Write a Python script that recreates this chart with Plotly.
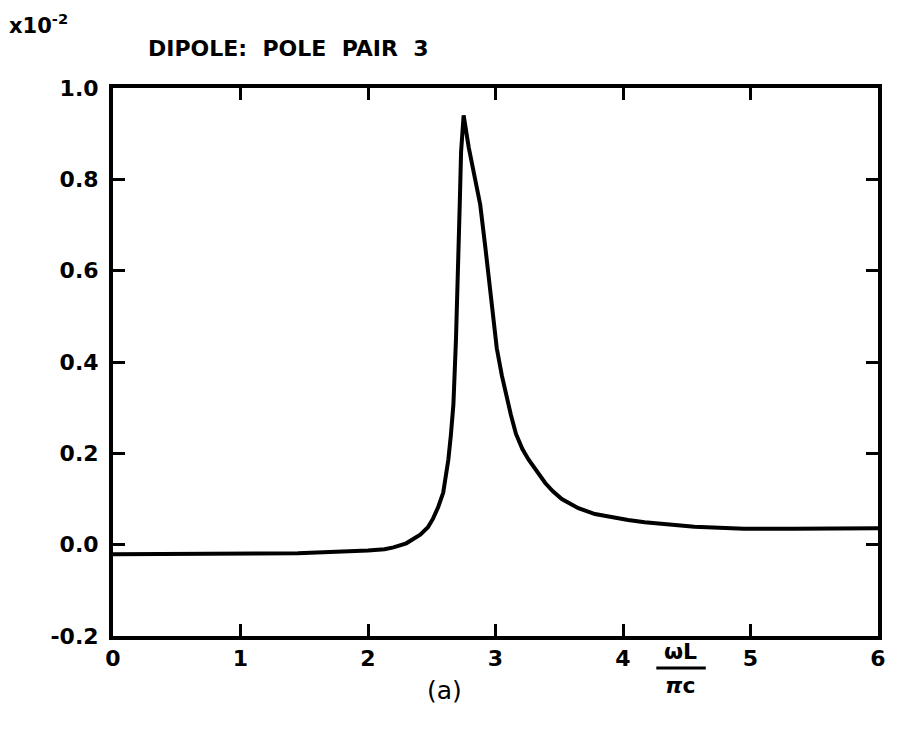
import plotly.graph_objects as go

# data (units of 1e-2)
omega = [0.0, 0.5, 1.0, 1.45, 2.0, 2.13, 2.2, 2.3, 2.41, 2.47, 2.51, 2.55, 2.59, 2.63,
         2.65, 2.67, 2.69, 2.71, 2.72, 2.73, 2.75, 2.79, 2.83, 2.88, 2.92, 2.95, 2.98,
         3.01, 3.05, 3.08, 3.12, 3.16, 3.21, 3.26, 3.33, 3.39, 3.45, 3.52, 3.65, 3.78,
         4.04, 4.17, 4.56, 4.95, 5.33, 5.95, 6.0]
response = [-0.021, -0.021, -0.020, -0.019, -0.013, -0.010, -0.006, 0.003, 0.022, 0.038,
            0.057, 0.082, 0.114, 0.186, 0.24, 0.308, 0.45, 0.62, 0.75, 0.86, 0.94, 0.87,
            0.81, 0.745, 0.652, 0.58, 0.51, 0.43, 0.37, 0.33, 0.285, 0.243, 0.21, 0.186,
            0.157, 0.135, 0.117, 0.10, 0.08, 0.067, 0.054, 0.049, 0.039, 0.035, 0.035,
            0.036, 0.036]

x_ticks = [0, 1, 2, 3, 4, 5, 6]
x_ticklabels = ["0", "1", "2", "3", "4", "5", "6"]
y_ticks = [-0.2, 0.0, 0.2, 0.4, 0.6, 0.8, 1.0]
y_ticklabels = ["-0.2", "0.0", "0.2", "0.4", "0.6", "0.8", "1.0"]

FONT = "DejaVu Sans"

fig = go.Figure()
fig.add_trace(go.Scatter(x=omega, y=response, mode="lines",
                         line=dict(color="black", width=4), showlegend=False,
                         hoverinfo="skip"))

axis_common = dict(showline=True, linecolor="black", linewidth=4, mirror="ticks",
                   ticks="inside", ticklen=12, tickwidth=3, tickcolor="black",
                   showgrid=False, zeroline=False,
                   tickfont=dict(family=FONT, size=22, color="black"))

fig.update_xaxes(range=[0, 6], tickvals=x_ticks, ticklabelstandoff=0,
                 ticktext=["<b>%s</b>" % t for t in x_ticklabels], **axis_common)
fig.update_yaxes(range=[-0.2, 1.0], tickvals=y_ticks, ticklabelstandoff=6,
                 ticktext=["<b>%s</b>" % t for t in y_ticklabels], **axis_common)

W, H = 898, 731
L, R, T, B = 113, 12, 88, 95
pw, ph = W - L - R, H - T - B

def px(xp):
    return (xp - L) / pw

def py(yp):
    return (H - B - yp) / ph

annos = [
    dict(text="<b>x10<sup>-2</sup></b>", x=px(6), y=py(24), xanchor="left", yanchor="middle",
         font=dict(family=FONT, size=21, color="black")),
    dict(text="<b>DIPOLE:  POLE  PAIR  3</b>", x=px(146), y=py(48), xanchor="left", yanchor="middle",
         font=dict(family=FONT, size=22, color="black")),
    dict(text="<b>ωL</b>", x=px(686), y=py(651), xanchor="center", yanchor="middle",
         font=dict(family=FONT, size=22, color="black")),
    dict(text="<b><i>π</i>c</b>", x=px(686), y=py(685), xanchor="center", yanchor="middle",
         font=dict(family=FONT, size=22, color="black")),
    dict(text="(a)", x=px(448), y=py(690), xanchor="center", yanchor="middle",
         font=dict(family=FONT, size=25, color="black")),
]
for a in annos:
    a.update(xref="paper", yref="paper", showarrow=False)

fig.update_layout(
    width=W, height=H,
    margin=dict(l=L, r=R, t=T, b=B),
    paper_bgcolor="white", plot_bgcolor="white",
    annotations=annos,
    shapes=[dict(type="line", xref="paper", yref="paper",
                 x0=px(662), x1=px(712), y0=py(668), y1=py(668),
                 line=dict(color="black", width=3))],
)

fig.write_html("out.html")
